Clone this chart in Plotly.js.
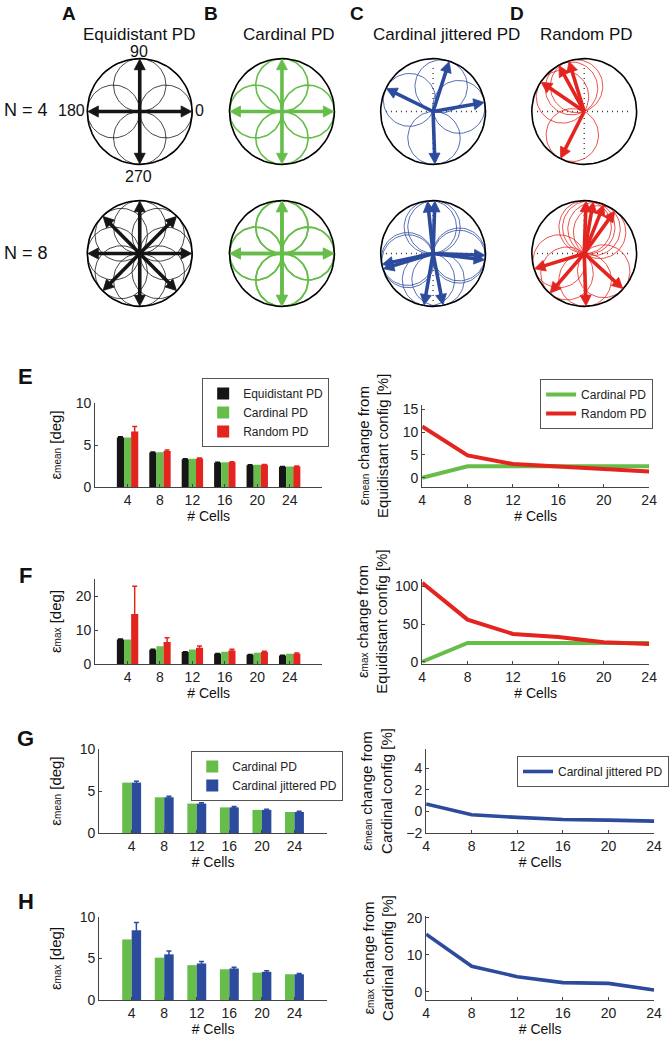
<!DOCTYPE html>
<html>
<head>
<meta charset="utf-8">
<script src="https://cdn.plot.ly/plotly-3.0.1.min.js"></script>
<style>
  html, body { margin: 0; padding: 0; background: #fff; }
  #fig { width: 669px; height: 1039px; }
</style>
</head>
<body>
<div id="fig"></div>
<script>
(function () {
  // ====== Data ======
  var cells = ['4', '8', '12', '16', '20', '24'];
  var cellsNum = [4, 8, 12, 16, 20, 24];

  // preferred directions [deg] shown in the compass panels A-D
  var pdEquiN4 = [0, 90, 180, 270];
  var pdCardN4 = [0, 90, 180, 270];
  var pdJitN4 = [72, 154, 10, 272];
  var pdRandN4 = [107, 119, 146, 243];
  var pdEquiN8 = [0, 45, 90, 135, 180, 225, 270, 315];
  var pdCardN8 = [0, 0, 90, 90, 180, 180, 270, 270];
  var pdJitN8 = [88, 96, 353, 358, 192, 197, 260, 281];
  var pdRandN8 = [54, 68, 80, 88, 197, 229, 272, 318];

  // E: mean error [deg]
  var meanEqui = [5.9, 4.1, 3.3, 2.9, 2.6, 2.4];
  var meanCard = [5.9, 4.15, 3.35, 2.95, 2.65, 2.45];
  var meanRand = [6.6, 4.3, 3.4, 2.95, 2.65, 2.45];
  var meanEquiErr = [0.08, 0.06, 0.05, 0.05, 0.04, 0.04];
  var meanRandErr = [0.6, 0.1, 0.06, 0.05, 0.04, 0.04];
  var meanCardChg = [0, 2.5, 2.5, 2.5, 2.5, 2.5];
  var meanRandChg = [11.2, 4.9, 3.0, 2.5, 1.9, 1.4];

  // F: max error [deg]
  var maxEqui = [7.2, 4.2, 3.5, 3.0, 2.7, 2.5];
  var maxCard = [7.2, 5.2, 4.3, 3.6, 3.3, 3.0];
  var maxRand = [14.7, 6.5, 4.8, 4.0, 3.5, 3.0];
  var maxEquiErr = [0.15, 0.12, 0.1, 0.08, 0.08, 0.06];
  var maxRandErr = [8.2, 1.2, 0.5, 0.35, 0.25, 0.2];
  var maxCardChg = [0, 25, 25, 25, 25, 25];
  var maxRandChg = [105, 56, 37, 33, 26, 23.5];

  // G: mean error, cardinal vs jittered
  var gCard = [6.0, 4.25, 3.5, 3.05, 2.75, 2.5];
  var gJit = [6.0, 4.25, 3.5, 3.05, 2.75, 2.5];
  var gJitErr = [0.15, 0.12, 0.1, 0.1, 0.08, 0.08];
  var gJitChg = [0.7, -0.3, -0.55, -0.75, -0.8, -0.9];

  // H: max error, cardinal vs jittered
  var hCard = [7.3, 5.1, 4.2, 3.7, 3.3, 3.1];
  var hJit = [8.4, 5.5, 4.4, 3.8, 3.4, 3.1];
  var hJitErr = [0.95, 0.4, 0.25, 0.15, 0.12, 0.1];
  var hJitChg = [15.6, 6.9, 4.1, 2.5, 2.3, 0.5];

  // ====== Style ======
  var FONT = 'Liberation Sans, Arial, Helvetica, sans-serif';
  var BLACK = '#151515', GREEN = '#66bd4a', RED = '#e3241f', BLUE = '#2c4b9d';
  var AX = '#444';
  var W = 669, H = 1039;
  function px(x) { return x / W; }
  function py(y) { return 1 - y / H; }

  var data = [];
  var annotations = [];
  var layout = {
    width: W, height: H,
    margin: { l: 0, r: 0, t: 0, b: 0 },
    paper_bgcolor: '#fff', plot_bgcolor: 'rgba(0,0,0,0)',
    font: { family: FONT, size: 14, color: '#222' },
    showlegend: true
  };

  // ====== Compass panels (A-D) ======
  var compass = [
    { pd: pdEquiN4, color: BLACK, ring: 0.8, dots: false },
    { pd: pdCardN4, color: GREEN, ring: 1.6, dots: false },
    { pd: pdJitN4, color: BLUE, ring: 0.8, dots: true },
    { pd: pdRandN4, color: RED, ring: 0.8, dots: true },
    { pd: pdEquiN8, color: BLACK, ring: 0.8, dots: false },
    { pd: pdCardN8, color: GREEN, ring: 1.6, dots: false },
    { pd: pdJitN8, color: BLUE, ring: 0.8, dots: true },
    { pd: pdRandN8, color: RED, ring: 0.8, dots: true }
  ];
  var cX = [141, 284.5, 437, 589.5], cY = [111.5, 253.5], half = 55;

  function ringPts(cx, cy, r) {
    var xs = [], ys = [];
    for (var a = 0; a <= 360; a += 5) {
      var t = a * Math.PI / 180;
      xs.push(cx + r * Math.cos(t)); ys.push(cy + r * Math.sin(t));
    }
    return [xs, ys];
  }

  compass.forEach(function (c, i) {
    var k = i + 1, sfx = k === 1 ? '' : k;
    var cx = cX[i % 4], cy = cY[Math.floor(i / 4)];
    layout['xaxis' + sfx] = { domain: [px(cx - half), px(cx + half)], anchor: 'y' + sfx,
      range: [-1.04, 1.04], visible: false, fixedrange: true };
    layout['yaxis' + sfx] = { domain: [py(cy + half), py(cy - half)], anchor: 'x' + sfx,
      range: [-1.04, 1.04], visible: false, fixedrange: true };
    var ax = { xaxis: 'x' + sfx, yaxis: 'y' + sfx, showlegend: false, hoverinfo: 'skip' };

    if (c.dots) {
      data.push(Object.assign({ type: 'scatter', mode: 'lines', x: [-0.9, 0.9, null, 0, 0], y: [0, 0, null, -0.9, 0.9],
        line: { color: '#333', width: 1.3, dash: '1px,4px' } }, ax));
    }
    var rx = [], ry = [];
    c.pd.forEach(function (d) {
      var t = d * Math.PI / 180;
      var p = ringPts(0.5 * Math.cos(t), 0.5 * Math.sin(t), 0.5);
      rx = rx.concat(p[0], [null]); ry = ry.concat(p[1], [null]);
    });
    data.push(Object.assign({ type: 'scatter', mode: 'lines', x: rx, y: ry,
      line: { color: c.color, width: c.ring } }, ax));
    var o = ringPts(0, 0, 1);
    data.push(Object.assign({ type: 'scatter', mode: 'lines', x: o[0], y: o[1],
      line: { color: '#000', width: 1.6 } }, ax));

    // arrows: shaft + filled head
    var len = 0.99, hl = 0.2, hw = 0.105;
    var sx = [], sy = [], hx = [], hy = [];
    c.pd.forEach(function (d) {
      var t = d * Math.PI / 180, co = Math.cos(t), si = Math.sin(t);
      var tx = len * co, ty = len * si;
      var bx = tx - hl * co, by = ty - hl * si;
      sx.push(0, bx + 0.06 * co, null); sy.push(0, by + 0.06 * si, null);
      hx.push(tx, bx - hw * si, bx + hw * si, tx, null);
      hy.push(ty, by + hw * co, by - hw * co, ty, null);
    });
    data.push(Object.assign({ type: 'scatter', mode: 'lines', x: sx, y: sy,
      line: { color: c.color, width: 3.6 } }, ax));
    data.push(Object.assign({ type: 'scatter', mode: 'lines', x: hx, y: hy, fill: 'toself',
      fillcolor: c.color, line: { color: c.color, width: 0.8 } }, ax));
  });

  // ====== Chart panels (E-H) ======
  function chartAxes(k, xdom, ydom, xopt, yopt, ytitle, ystand) {
    var base = { showline: true, linecolor: AX, linewidth: 1, ticks: 'inside', ticklen: 3, tickcolor: AX,
      showgrid: false, zeroline: false, fixedrange: true, automargin: false,
      tickfont: { size: 14, color: '#222' } };
    layout['xaxis' + k] = Object.assign({ domain: xdom, anchor: 'y' + k,
      title: { text: '# Cells', font: { size: 14, color: '#111' }, standoff: 3 } }, base, xopt);
    layout['yaxis' + k] = Object.assign({ domain: ydom, anchor: 'x' + k,
      title: { text: ytitle, font: { size: 15, color: '#111' }, standoff: ystand } }, base, yopt);
  }
  function eps(sub) { return 'ε<span style="font-size:10px">' + sub + '</span>'; }
  var barX = { type: 'category', range: [-1, 6] };
  var lineX = { range: [4, 24], tickvals: cellsNum };
  var lxE = [px(96), px(325)], rxE = [px(426), px(655)];
  var lxG = [px(100), px(330)], rxG = [px(430), px(660)];
  var yMean = eps('mean') + ' [deg]', yMax = eps('max') + ' [deg]';

  chartAxes(9, lxE, [py(487), py(403)], barX, { range: [0, 10], tickvals: [0, 5, 10] }, yMean, 10);
  chartAxes(10, rxE, [py(487), py(404.5)], lineX, { range: [-2, 16], tickvals: [0, 5, 10, 15] },
    eps('mean') + ' change from<br>Equidistant config [%]', 10);
  chartAxes(11, lxE, [py(664), py(579)], barX, { range: [0, 25], tickvals: [0, 10, 20] }, yMax, 10);
  chartAxes(12, rxE, [py(664), py(579)], lineX, { range: [-3, 110], tickvals: [0, 50, 100] },
    eps('max') + ' change from<br>Equidistant config [%]', 3);
  chartAxes(13, lxG, [py(833), py(749)], barX, { range: [0, 10], tickvals: [0, 5, 10] }, yMean, 14);
  chartAxes(14, rxG, [py(833), py(749)], lineX, { range: [-2, 5.8], tickvals: [-2, 0, 2, 4] },
    eps('mean') + ' change from<br>Cardinal config [%]', 10);
  chartAxes(15, lxG, [py(1000), py(917)], barX, { range: [0, 10], tickvals: [0, 5, 10] }, yMax, 14);
  chartAxes(16, rxG, [py(1000), py(916)], lineX, { range: [-2.2, 20.5], tickvals: [0, 10, 20] },
    eps('max') + ' change from<br>Cardinal config [%]', 9);

  function bar(k, y, err, color, off, wid, name, leg) {
    var t = { type: 'bar', x: cells, y: y, xaxis: 'x' + k, yaxis: 'y' + k, offset: off, width: wid,
      marker: { color: color, line: { width: 0 } }, name: name, hoverinfo: 'skip',
      showlegend: !!leg, legend: leg || 'legend' };
    if (err) t.error_y = { type: 'data', array: err, visible: true, color: color, thickness: 1.5, width: 2.5 };
    return t;
  }
  function line(k, y, color, w, name, leg) {
    return { type: 'scatter', mode: 'lines', x: cellsNum, y: y, xaxis: 'x' + k, yaxis: 'y' + k,
      line: { color: color, width: w }, name: name, hoverinfo: 'skip',
      showlegend: !!leg, legend: leg || 'legend' };
  }

  // E
  data.push(bar(9, meanEqui, meanEquiErr, BLACK, -0.33, 0.22, 'Equidistant PD', 'legend'));
  data.push(bar(9, meanCard, null, GREEN, -0.11, 0.22, 'Cardinal PD', 'legend'));
  data.push(bar(9, meanRand, meanRandErr, RED, 0.11, 0.22, 'Random PD', 'legend'));
  data.push(line(10, meanCardChg, GREEN, 4, 'Cardinal PD', 'legend2'));
  data.push(line(10, meanRandChg, RED, 4, 'Random PD', 'legend2'));
  // F
  data.push(bar(11, maxEqui, maxEquiErr, BLACK, -0.33, 0.22, 'Equidistant PD'));
  data.push(bar(11, maxCard, null, GREEN, -0.11, 0.22, 'Cardinal PD'));
  data.push(bar(11, maxRand, maxRandErr, RED, 0.11, 0.22, 'Random PD'));
  data.push(line(12, maxCardChg, GREEN, 4, 'Cardinal PD'));
  data.push(line(12, maxRandChg, RED, 4, 'Random PD'));
  // G
  data.push(bar(13, gCard, null, GREEN, -0.29, 0.29, 'Cardinal PD', 'legend3'));
  data.push(bar(13, gJit, gJitErr, BLUE, 0, 0.29, 'Cardinal jittered PD', 'legend3'));
  data.push(line(14, gJitChg, BLUE, 3.6, 'Cardinal jittered PD', 'legend4'));
  // H
  data.push(bar(15, hCard, null, GREEN, -0.29, 0.29, 'Cardinal PD'));
  data.push(bar(15, hJit, hJitErr, BLUE, 0, 0.29, 'Cardinal jittered PD'));
  data.push(line(16, hJitChg, BLUE, 3.6, 'Cardinal jittered PD'));

  function legendAt(x, y) {
    return { x: px(x), y: py(y), xanchor: 'left', yanchor: 'top', bgcolor: '#fff',
      bordercolor: '#555', borderwidth: 1, font: { size: 12, color: '#222' },
      tracegroupgap: 0, itemwidth: 30 };
  }
  layout.legend = legendAt(204, 378);
  layout.legend2 = legendAt(545, 379);
  layout.legend3 = legendAt(193, 751);
  layout.legend4 = legendAt(522, 756);

  // ====== Text ======
  function txt(x, y, s, size, opt) {
    annotations.push(Object.assign({ xref: 'paper', yref: 'paper', x: px(x), y: py(y), text: s,
      showarrow: false, xanchor: 'center', yanchor: 'middle',
      font: { family: FONT, size: size, color: '#111' } }, opt || {}));
  }
  function bold(s) { return '<b>' + s + '</b>'; }

  [['A', 70], ['B', 213], ['C', 360], ['D', 522]].forEach(function (l) { txt(l[1], 14, bold(l[0]), 19); });
  txt(140, 35, 'Equidistant PD', 17);
  txt(292, 35, 'Cardinal PD', 17);
  txt(451, 35, 'Cardinal jittered PD', 17);
  txt(592, 35, 'Random PD', 17);
  txt(140, 51, '90', 16);
  txt(72, 110, '180', 16);
  txt(201, 110, '0', 16);
  txt(140, 177, '270', 16);
  txt(2, 110, 'N = 4', 18, { xanchor: 'left' });
  txt(2, 253, 'N = 8', 18, { xanchor: 'left' });

  [['E', 376], ['F', 575], ['G', 738], ['H', 901]].forEach(function (l) { txt(26, l[1], bold(l[0]), 22); });

  layout.annotations = annotations;
  Plotly.newPlot('fig', data, layout, { staticPlot: true, displayModeBar: false });
})();
</script>
</body>
</html>
